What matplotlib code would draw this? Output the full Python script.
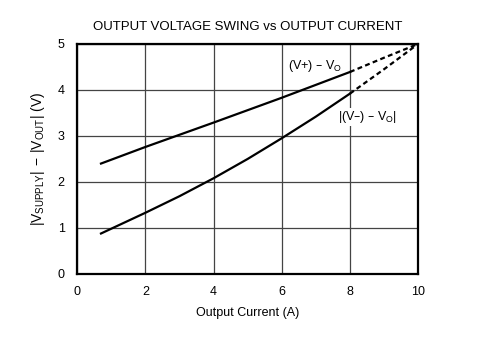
import matplotlib
matplotlib.use("Agg")
import matplotlib.pyplot as plt

plt.rcParams['font.family'] = ['Liberation Sans', 'DejaVu Sans']

# measured curves (A, V)
pos_current = [0.7, 2, 4, 6, 8]
pos_swing = [2.4, 2.76, 3.29, 3.83, 4.39]
pos_dash_current = [8, 9, 10]
pos_dash_swing = [4.39, 4.7, 5.0]

neg_current = [0.7, 2, 3, 4, 5, 6, 7, 8]
neg_swing = [0.88, 1.33, 1.69, 2.08, 2.5, 2.95, 3.42, 3.92]
neg_dash_current = [8, 9, 10]
neg_dash_swing = [3.92, 4.45, 5.0]

x_ticks = [0, 2, 4, 6, 8, 10]
y_ticks = [0, 1, 2, 3, 4, 5]

fig = plt.figure(figsize=(4.79, 3.57), dpi=100)
ax = fig.add_axes([0.161, 0.2325, 0.712, 0.6445])

ax.plot(pos_current, pos_swing, color='black', linewidth=1.6)
ax.plot(pos_dash_current, pos_dash_swing, color='black', linewidth=1.6, linestyle=(0, (2.2, 1.5)))
ax.plot(neg_current, neg_swing, color='black', linewidth=1.6)
ax.plot(neg_dash_current, neg_dash_swing, color='black', linewidth=1.6, linestyle=(0, (2.2, 1.5)))

ax.set_xlim(0, 10)
ax.set_ylim(0, 5)
ax.set_xticks(x_ticks)
ax.set_yticks(y_ticks)
ax.tick_params(length=0, labelsize=9, pad=9)
ax.grid(True, color='#444444', linewidth=0.9)
for s in ax.spines.values():
    s.set_linewidth(1.6)

ax.set_title('OUTPUT VOLTAGE SWING vs OUTPUT CURRENT', fontsize=9.5, pad=10)
ax.set_xlabel('Output Current (A)', fontsize=9, labelpad=6)
ax.set_ylabel(r'$\mathregular{|V_{SUPPLY}|\,-\,|V_{OUT}|}$ (V)', fontsize=10, labelpad=8)

ax.text(6.98, 4.52, r'(V+) – V$\mathregular{_O}$', fontsize=9, ha='center', va='center')
ax.text(8.52, 3.41, r'$\mathregular{|}$(V–) – V$\mathregular{_O}$$\mathregular{|}$', fontsize=9,
        ha='center', va='center', bbox=dict(facecolor='white', edgecolor='none', pad=0.5))

fig.savefig('out.png', dpi=100)
